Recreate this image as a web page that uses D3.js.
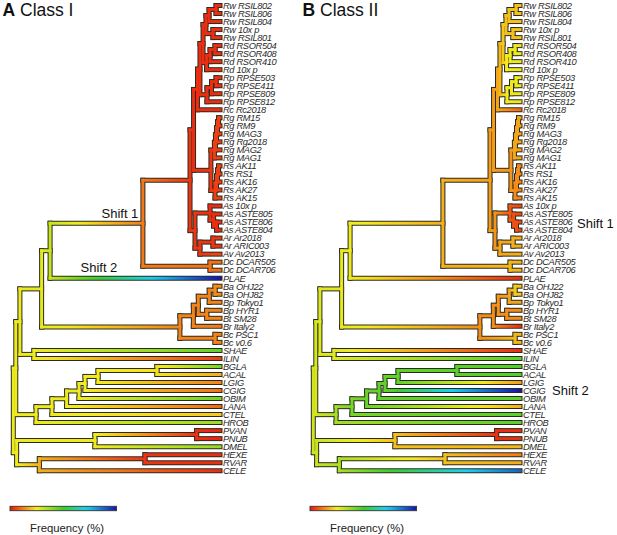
<!DOCTYPE html>
<html><head><meta charset="utf-8">
<script src="https://cdn.jsdelivr.net/npm/d3@7"></script>
<style>body{margin:0;background:#fff} svg{display:block}</style>
</head><body>
<svg id="chart" width="617" height="535"></svg>
<script>
// ---------- DATA ----------
const leafNames = [
  "Rw RSIL802","Rw RSIL806","Rw RSIL804","Rw 10x p","Rw RSIL801",
  "Rd RSOR504","Rd RSOR408","Rd RSOR410","Rd 10x p",
  "Rp RPSE503","Rp RPSE411","Rp RPSE809","Rp RPSE812","Rc Rc2018",
  "Rg RM15","Rg RM9","Rg MAG3","Rg Rg2018","Rg MAG2","Rg MAG1",
  "Rs AK11","Rs RS1","Rs AK16","Rs AK27","Rs AK15",
  "As 10x p","As ASTE805","As ASTE806","As ASTE804",
  "Ar Ar2018","Ar ARIC003","Av Av2013","Dc DCAR505","Dc DCAR706","PLAE",
  "Ba OHJ22","Ba OHJ82","Bp Tokyo1","Bp HYR1","Bt SM28","Br Italy2","Bc PSC1","Bc v0.6",
  "SHAE","ILIN","BGLA","ACAL","LGIG","CGIG","OBIM","LANA","CTEL","HROB",
  "PVAN","PNUB","DMEL","HEXE","RVAR","CELE"
];
const leafParents = [
  "nRw11","nRw11","nRw1","nRw2","nRw2",
  "nRd11","nRd11","nRd1","nRd",
  "nRp11","nRp11","nRp1","nRp","nRrest",
  "nRg4","nRg4","nRg3","nRg2","nRg1","nRg",
  "nRs3","nRs3","nRs2","nRs1","nRs",
  "nAs","nAs1","nAs2","nAs2",
  "nAr","nAr","nArAv","nDc","nDc","n4",
  "nBa","nBa","nB3","nB4","nB4","nB1","nBc","nBc",
  "nSI","nSI","nBG6","nBG6","nBG5","nBG4","nBG3","nBG2","nBG1","nBG",
  "nPP","nPP","nP","nHR","nHR","nH"
];
const nodeIds = [
  "root","n1","nBot","n2","nBG","n3","nSI","n4","nB","nS1",
  "nRA","nDc","nR","nA","nRrest","nRgRs","nRwRdRp","nRwRd","nRp","nRw",
  "nRd","nRw1","nRw11","nRw2","nRd1","nRd11","nRp1","nRp11","nRg","nRg1",
  "nRg2","nRg3","nRg4","nRs","nRs1","nRs2","nRs3","nAs","nAs1","nAs2",
  "nArAv","nAr","nB1","nBc","nB2","nB3","nB4","nBa","nBG1","nBG2",
  "nBG3","nBG4","nBG5","nBG6","nP","nPP","nH","nHR"
];
const nodeParents = [
  null,"root","root","n1","n1","n2","n2","n3","n3","n4",
  "nS1","nS1","nRA","nRA","nR","nR","nRrest","nRwRdRp","nRwRdRp","nRwRd",
  "nRwRd","nRw","nRw1","nRw","nRd","nRd1","nRp","nRp1","nRgRs","nRg",
  "nRg1","nRg2","nRg3","nRgRs","nRs","nRs1","nRs2","nA","nAs","nAs1",
  "nA","nArAv","nB","nB","nB1","nB2","nB2","nB3","nBG","nBG1",
  "nBG2","nBG3","nBG4","nBG5","nBot","nP","nBot","nH"
];
// relative node depth (0 = root, 100 = tips)
const nodeDepths = [
  0,1.2,1.6,3.2,11.0,13.7,10.0,17.8,80.6,62.7,
  85.5,95.2,87.2,87.9,89.1,95.6,90.3,91.8,93.7,93.2,
  93.5,94.7,98.1,96.6,95.2,97.6,95.9,98.1,97.3,97.8,
  98.3,98.8,99.3,97.6,98.3,98.8,99.3,95.2,96.9,98.3,
  90.3,96.6,87.1,97.6,89.5,94.8,93.6,97.6,18.7,25.8,
  31.8,34.7,41.0,69.5,39.5,88.7,12.6,63.7
];
// Frequency (%) per node, Class I
const classINodes = [
  26,26,26,26,26,27,26,31,13,12,
  4,11,3,4,3,4,3,3,3,3,
  3,3,3,3,3,3,3,3,5,5,
  5,5,5,5,5,5,5,3,3,3,
  4,4,13,13,13,13,13,14,26,26,
  26,25,25,24,26,3,18,4
];
const classILeaves = [
  3,3,3,3,3, 3,3,3,3, 3,3,3,3, 3,
  5,5,5,5,5,5, 5,5,5,5,5, 3,3,3,3, 4,4,6, 11,11, 100,
  14,14,13,13,13,12,13,13, 45,5,
  42,18,13,11,43,10,21,37, 2,2,38, 3,3,3
];
// Frequency (%) per node, Class II
const classIINodes = [
  30,29,31,28,36,27,28,26,14,18,
  16,19,16,15,17,15,19,21,25,20,
  25,20,20,20,26,26,26,26,17,17,
  17,17,17,14,14,14,14,8,7,7,
  17,18,14,19,15,17,14,21,42,44,
  45,45,45,46,20,3,35,20
];
const classIILeaves = [
  20,20,20,20,20, 26,26,26,26, 26,26,26,26, 10,
  17,17,17,17,17,17, 13,13,13,13,13, 6,6,6,6, 18,18,18, 19,19, 3,
  21,21,17,14,14,3,19,19, 3,46,
  47,47,16,100,46,18,46,46, 3,3,19, 12,18,88
];
const colorStops = [0, 12, 25, 50, 72, 100];
const colorRange = ["#e81410","#f47a18","#f4ec1c","#3ccc2a","#18d2f0","#1414b4"];
const panels = [
  {title:"A", sub:" Class I", nodes:classINodes, leaves:classILeaves, ox:0,
   shifts:[{t:"Shift 1",x:101.5,y:217.5},{t:"Shift 2",x:80.5,y:272}]},
  {title:"B", sub:" Class II", nodes:classIINodes, leaves:classIILeaves, ox:300,
   shifts:[{t:"Shift 1",x:577,y:227.5},{t:"Shift 2",x:552,y:394.5}]}
];

// ---------- DRAW ----------
const svg = d3.select("#chart");
const defs = svg.append("defs");
const color = d3.scaleLinear().domain(colorStops).range(colorRange).clamp(true);
const yScale = d3.scaleLinear().domain([0, leafNames.length-1]).range([5.5, 470.7]);
const FONT = "'Liberation Sans', Arial, Helvetica, sans-serif";

function buildTree(nodeVals, leafVals) {
  const rows = nodeIds.map((id,i)=>({id, parent: nodeParents[i], depth: nodeDepths[i], value: nodeVals[i], leafIndex: -1}));
  leafNames.forEach((n,i)=>rows.push({id:"L"+i, parent: leafParents[i], depth:100, value: leafVals[i], leafIndex:i, name:n}));
  const root = d3.stratify().id(d=>d.id).parentId(d=>d.parent)(rows);
  root.eachAfter(n => { n.minLeaf = n.children ? d3.min(n.children, c=>c.minLeaf) : n.data.leafIndex; });
  root.each(n => { if (n.children) n.children.sort((a,b)=>a.minLeaf-b.minLeaf); });
  return root;
}

panels.forEach((p, pi) => {
  const root = buildTree(p.nodes, p.leaves);
  const xScale = d3.scaleLinear().domain([0,100]).range([p.ox+13.3, p.ox+220]);
  root.eachAfter(n => {
    n.px = xScale(n.data.depth);
    n.py = n.children ? (n.children[0].py + n.children[n.children.length-1].py)/2 : yScale(n.data.leafIndex);
  });
  const links = root.links();
  const internals = root.descendants().filter(d=>d.children);
  const g = svg.append("g");

  // gradients for horizontal branches
  links.forEach((l,i) => {
    const gr = defs.append("linearGradient").attr("id", `g${pi}_${i}`)
      .attr("gradientUnits","userSpaceOnUse")
      .attr("x1", l.source.px).attr("x2", l.target.px).attr("y1", l.target.py).attr("y2", l.target.py);
    const v0 = l.source.data.value, v1 = l.target.data.value;
    d3.range(0, 1.0001, 0.1).forEach(t => {
      gr.append("stop").attr("offset", t).attr("stop-color", color(v0 + (v1-v0)*t));
    });
  });

  // outline pass
  const og = g.append("g").attr("stroke","#2a2a22").attr("stroke-width",5).attr("stroke-linecap","square");
  og.selectAll("line.h").data(links).join("line").attr("class","h")
    .attr("x1",d=>d.source.px).attr("x2",d=>d.target.px).attr("y1",d=>d.target.py).attr("y2",d=>d.target.py);
  og.selectAll("line.v").data(internals).join("line").attr("class","v")
    .attr("x1",d=>d.px).attr("x2",d=>d.px)
    .attr("y1",d=>d.children[0].py).attr("y2",d=>d.children[d.children.length-1].py);

  // color pass
  const cg = g.append("g").attr("stroke-width",3).attr("stroke-linecap","square");
  cg.selectAll("line.v").data(internals).join("line").attr("class","v")
    .attr("stroke", d=>color(d.data.value))
    .attr("x1",d=>d.px).attr("x2",d=>d.px)
    .attr("y1",d=>d.children[0].py).attr("y2",d=>d.children[d.children.length-1].py);
  cg.selectAll("line.h").data(links).join("line").attr("class","h")
    .attr("stroke", (d,i)=>`url(#g${pi}_${i})`)
    .attr("x1",d=>d.source.px).attr("x2",d=>d.target.px).attr("y1",d=>d.target.py).attr("y2",d=>d.target.py);

  // leaf labels
  g.append("g").selectAll("text").data(root.leaves()).join("text")
    .attr("x", xScale(100)+3).attr("y", d=>d.py+3.3)
    .attr("font-family", FONT).attr("font-size", 9.3).attr("font-style","italic")
    .attr("letter-spacing", -0.35).attr("fill","#2a2a2a")
    .text(d=>d.data.name);

  // title
  const tt = g.append("text").attr("x", p.ox+2.5).attr("y", 16.3)
    .attr("font-family", FONT).attr("font-size", 17.5).attr("fill","#111");
  tt.append("tspan").attr("font-weight","bold").text(p.title);
  tt.append("tspan").text(p.sub);

  // shift labels
  g.append("g").selectAll("text").data(p.shifts).join("text")
    .attr("x", d=>d.x).attr("y", d=>d.y)
    .attr("font-family", FONT).attr("font-size", 13).attr("fill","#111")
    .text(d=>d.t);

  // colorbar
  const cb = defs.append("linearGradient").attr("id", `cb${pi}`);
  d3.range(0, 101, 5).forEach(v => cb.append("stop").attr("offset", v/100).attr("stop-color", color(v)));
  const cbx = d3.scaleLinear().domain([0,100]).range([p.ox+10, p.ox+116.5]);
  g.append("rect").attr("x", cbx(0)).attr("y", 506.3).attr("width", cbx(100)-cbx(0)).attr("height", 4.4)
    .attr("fill", `url(#cb${pi})`).attr("stroke","#333").attr("stroke-width",0.9);
  g.append("text").attr("x", p.ox+30).attr("y", 531.5)
    .attr("font-family", FONT).attr("font-size", 11.3).attr("fill","#222")
    .text("Frequency (%)");
});
</script>
</body></html>
